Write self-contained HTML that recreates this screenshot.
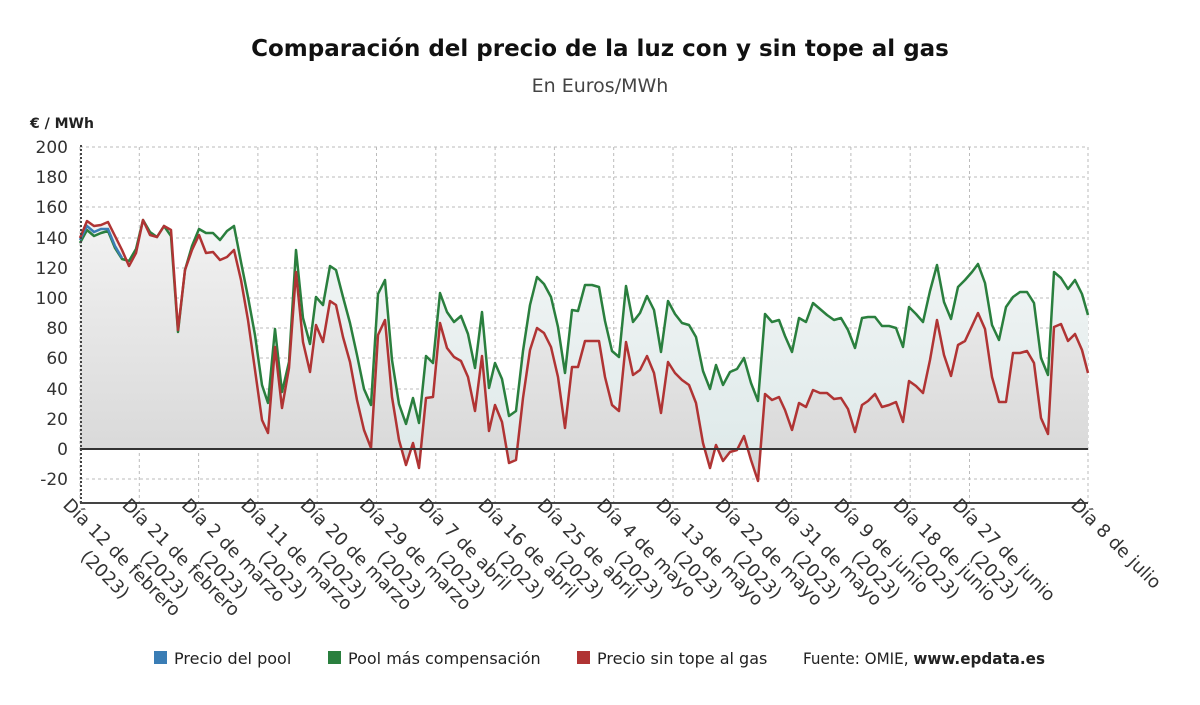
<!DOCTYPE html>
<html><head><meta charset="utf-8"><style>
body{margin:0;background:#fff;}
svg{display:block;font-family:"DejaVu Sans","Liberation Sans",sans-serif;}
</style></head><body>
<svg width="1200" height="705" viewBox="0 0 1200 705">
<defs>
<linearGradient id="gg" x1="0" y1="0" x2="0" y2="1"><stop offset="0" stop-color="#f4f6f6"/><stop offset="1" stop-color="#dfeaea"/></linearGradient>
<linearGradient id="gr" x1="0" y1="0" x2="0" y2="1"><stop offset="0" stop-color="#f2f2f2"/><stop offset="1" stop-color="#d6d6d6"/></linearGradient>
</defs>
<text x="600" y="56" text-anchor="middle" font-size="23" font-weight="bold" fill="#111">Comparación del precio de la luz con y sin tope al gas</text>
<text x="600" y="92" text-anchor="middle" font-size="19" fill="#444">En Euros/MWh</text>
<text x="30" y="128" font-size="14" font-weight="bold" fill="#222">€ / MWh</text>
<g stroke="#bbb" stroke-dasharray="3,3" stroke-width="1">
<line x1="80" x2="1088" y1="147" y2="147"/><line x1="80" x2="1088" y1="177" y2="177"/><line x1="80" x2="1088" y1="207" y2="207"/><line x1="80" x2="1088" y1="238" y2="238"/><line x1="80" x2="1088" y1="268" y2="268"/><line x1="80" x2="1088" y1="298" y2="298"/><line x1="80" x2="1088" y1="328" y2="328"/><line x1="80" x2="1088" y1="358" y2="358"/><line x1="80" x2="1088" y1="389" y2="389"/><line x1="80" x2="1088" y1="419" y2="419"/><line x1="80" x2="1088" y1="479" y2="479"/>
</g>
<g stroke="#bbb" stroke-dasharray="3,3" stroke-width="1" id="vg"></g>
<g font-size="17" fill="#333" text-anchor="end">
<text x="68" y="153">200</text><text x="68" y="183">180</text><text x="68" y="213">160</text><text x="68" y="244">140</text><text x="68" y="274">120</text><text x="68" y="304">100</text><text x="68" y="334">80</text><text x="68" y="364">60</text><text x="68" y="395">40</text><text x="68" y="425">20</text><text x="68" y="455">0</text><text x="68" y="485">-20</text>
</g>
<g id="plot"></g>
<line x1="80" x2="1088" y1="449" y2="449" stroke="#333" stroke-width="2"/>
<line x1="80" x2="1088" y1="503" y2="503" stroke="#444" stroke-width="2"/>
<line x1="81" x2="81" y1="145" y2="503" stroke="#444" stroke-width="2" stroke-dasharray="2,2"/>
<g id="xl" font-size="18" fill="#333"></g>
<g font-size="16" fill="#222">
<rect x="154" y="651" width="13" height="13" fill="#3a7db5"/><text x="174" y="664">Precio del pool</text>
<rect x="328" y="651" width="13" height="13" fill="#2a7f3e"/><text x="348" y="664">Pool más compensación</text>
<rect x="577" y="651" width="13" height="13" fill="#b03434"/><text x="597" y="664">Precio sin tope al gas</text>
<text x="803" y="664" textLength="242" lengthAdjust="spacingAndGlyphs">Fuente: OMIE, <tspan font-weight="bold">www.epdata.es</tspan></text>
</g>
</svg>
<script>
const G="80,243 87,230 94,236 101,233 108,231 115,248 122,259 129,261 136,249 143,220 150,232 157,237 164,226 171,236 178,332 185,270 192,246 199,229 206,233 213,233 220,240 227,231 234,226 241,262 248,297 255,335 262,385 268,403 275,329 282,392 289,362 296,250 303,318 310,344 316,297 323,305 330,266 336,270 343,297 350,323 357,355 364,389 371,405 378,294 385,280 392,360 399,404 406,424 413,398 419,423 426,356 433,363 440,293 447,312 454,322 461,316 468,334 475,368 482,312 489,388 495,363 502,379 509,416 516,411 523,351 530,305 537,277 544,284 551,297 558,327 565,373 572,310 578,311 585,285 592,285 599,287 605,321 612,351 619,357 626,286 633,322 640,313 647,296 654,310 661,352 668,301 675,314 682,323 689,325 696,337 703,371 710,389 716,365 723,385 730,372 737,369 744,358 751,383 758,401 765,314 772,322 779,320 785,336 792,352 799,318 806,322 813,303 820,309 827,315 834,320 841,318 848,330 855,348 862,318 868,317 875,317 882,326 889,326 896,328 903,347 909,307 916,314 923,322 930,291 937,265 944,302 951,319 958,287 965,280 972,272 978,264 985,283 992,325 999,340 1006,307 1013,297 1020,292 1027,292 1034,303 1041,358 1048,375 1054,272 1061,278 1068,289 1075,280 1082,294 1088,315";
const R="80,238 87,221 94,226 101,225 108,222 115,236 122,250 129,266 136,253 143,220 150,235 157,237 164,226 171,230 178,330 185,270 192,250 199,235 206,253 213,252 220,260 227,257 234,250 241,280 248,320 255,370 262,420 268,433 275,347 282,408 289,368 296,272 303,342 310,372 316,325 323,342 330,301 336,305 343,337 350,362 357,400 364,430 371,448 378,335 385,320 392,397 399,440 406,465 413,443 419,468 426,398 433,397 440,323 447,348 454,357 461,361 468,377 475,411 482,356 489,431 495,405 502,422 509,463 516,460 523,398 530,350 537,328 544,333 551,347 558,377 565,428 572,367 578,367 585,341 592,341 599,341 605,377 612,405 619,411 626,342 633,375 640,370 647,356 654,373 661,413 668,362 675,373 682,380 689,385 696,403 703,443 710,468 716,445 723,461 730,452 737,450 744,436 751,460 758,481 765,394 772,400 779,397 785,410 792,430 799,403 806,407 813,390 820,393 827,393 834,399 841,398 848,409 855,432 862,405 868,401 875,394 882,407 889,405 896,402 903,422 909,381 916,386 923,393 930,360 937,320 944,355 951,376 958,345 965,341 972,326 978,313 985,329 992,377 999,402 1006,402 1013,353 1020,353 1027,351 1034,363 1041,418 1048,434 1054,327 1061,324 1068,341 1075,334 1082,350 1088,373";
const B="80,240 87,226 94,232 101,229 108,229 115,246 122,258";
const NS="http://www.w3.org/2000/svg";
function el(t,a,p){const e=document.createElementNS(NS,t);for(const k in a)e.setAttribute(k,a[k]);p.appendChild(e);return e;}
const plot=document.getElementById('plot');
el('polygon',{points:"80,449 "+G+" 1088,449",fill:"url(#gg)"},plot);
el('polygon',{points:"80,449 "+R+" 1088,449",fill:"url(#gr)"},plot);
el('polyline',{points:G,fill:"none",stroke:"#2a7f3e","stroke-width":2.5,"stroke-linejoin":"round"},plot);
el('polyline',{points:B,fill:"none",stroke:"#3a7db5","stroke-width":2.5},plot);
el('polyline',{points:R,fill:"none",stroke:"#b03434","stroke-width":2.5,"stroke-linejoin":"round"},plot);
const labs=["12 de febrero","21 de febrero","2 de marzo","11 de marzo","20 de marzo","29 de marzo","7 de abril","16 de abril","25 de abril","4 de mayo","13 de mayo","22 de mayo","31 de mayo","9 de junio","18 de junio","27 de junio"];
const vg=document.getElementById('vg'),xl=document.getElementById('xl');
function lab(x,t,two){const g=el('g',{transform:`translate(${x-18},506) rotate(45)`},xl);
 const a=el('text',{x:0,y:0},g);a.textContent="Día "+t;
 if(two){const b=el('text',{x:49,y:24},g);b.textContent="(2023)";}}
labs.forEach((t,i)=>{const x=80+59.3*i;el('line',{x1:x,x2:x,y1:147,y2:503},vg);lab(x,t,true);});
el('line',{x1:1088,x2:1088,y1:147,y2:503},vg);
lab(1088,"8 de julio",false);
</script>
</body></html>
